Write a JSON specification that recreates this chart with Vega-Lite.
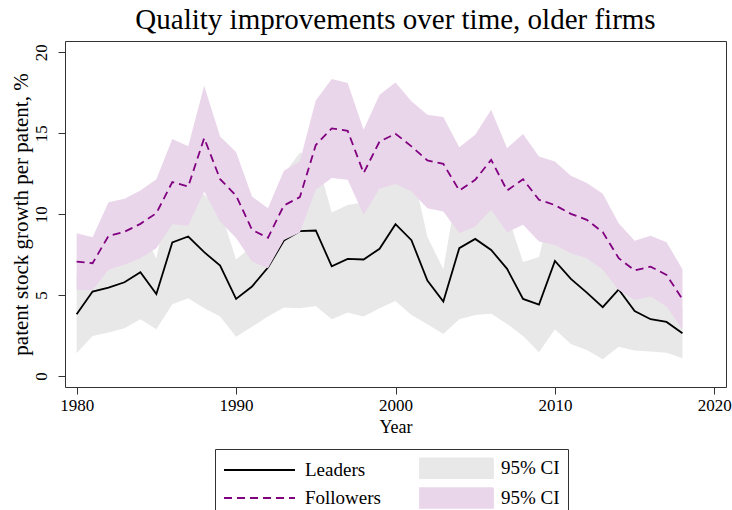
{
  "$schema": "https://vega.github.io/schema/vega-lite/v6.json",
  "width": 661,
  "height": 346,
  "autosize": "none",
  "padding": {"left": 65, "top": 41, "right": 6, "bottom": 123},
  "background": "white",
  "title": {
    "text": "Quality improvements over time, older firms",
    "font": "Liberation Serif",
    "fontSize": 29,
    "fontWeight": "normal",
    "color": "black",
    "anchor": "middle",
    "baseline": "alphabetic",
    "offset": -17
  },
  "config": {
    "view": {"stroke": "#333333", "strokeWidth": 1},
    "font": "Liberation Serif",
    "axis": {
      "domain": false,
      "grid": false,
      "tickColor": "#333333",
      "tickSize": 7,
      "labelFont": "Liberation Serif",
      "labelFontSize": 17,
      "labelColor": "black",
      "titleFont": "Liberation Serif",
      "titleFontWeight": "normal",
      "titleColor": "black"
    }
  },
  "datasets": {
    "est": [
      {"year": 1980, "series": "Leaders", "value": 3.81}, {"year": 1981, "series": "Leaders", "value": 5.22},
      {"year": 1982, "series": "Leaders", "value": 5.46}, {"year": 1983, "series": "Leaders", "value": 5.79},
      {"year": 1984, "series": "Leaders", "value": 6.41}, {"year": 1985, "series": "Leaders", "value": 5.07},
      {"year": 1986, "series": "Leaders", "value": 8.25}, {"year": 1987, "series": "Leaders", "value": 8.62},
      {"year": 1988, "series": "Leaders", "value": 7.65}, {"year": 1989, "series": "Leaders", "value": 6.82},
      {"year": 1990, "series": "Leaders", "value": 4.76}, {"year": 1991, "series": "Leaders", "value": 5.53},
      {"year": 1992, "series": "Leaders", "value": 6.70}, {"year": 1993, "series": "Leaders", "value": 8.37},
      {"year": 1994, "series": "Leaders", "value": 8.95}, {"year": 1995, "series": "Leaders", "value": 8.99},
      {"year": 1996, "series": "Leaders", "value": 6.78}, {"year": 1997, "series": "Leaders", "value": 7.24},
      {"year": 1998, "series": "Leaders", "value": 7.20}, {"year": 1999, "series": "Leaders", "value": 7.86},
      {"year": 2000, "series": "Leaders", "value": 9.38}, {"year": 2001, "series": "Leaders", "value": 8.39},
      {"year": 2002, "series": "Leaders", "value": 5.90}, {"year": 2003, "series": "Leaders", "value": 4.60},
      {"year": 2004, "series": "Leaders", "value": 7.90}, {"year": 2005, "series": "Leaders", "value": 8.47},
      {"year": 2006, "series": "Leaders", "value": 7.79}, {"year": 2007, "series": "Leaders", "value": 6.62},
      {"year": 2008, "series": "Leaders", "value": 4.76}, {"year": 2009, "series": "Leaders", "value": 4.41},
      {"year": 2010, "series": "Leaders", "value": 7.11}, {"year": 2011, "series": "Leaders", "value": 6.00},
      {"year": 2012, "series": "Leaders", "value": 5.15}, {"year": 2013, "series": "Leaders", "value": 4.25},
      {"year": 2014, "series": "Leaders", "value": 5.35}, {"year": 2015, "series": "Leaders", "value": 4.02},
      {"year": 2016, "series": "Leaders", "value": 3.51}, {"year": 2017, "series": "Leaders", "value": 3.34},
      {"year": 2018, "series": "Leaders", "value": 2.64},
      {"year": 1980, "series": "Followers", "value": 7.07}, {"year": 1981, "series": "Followers", "value": 6.97},
      {"year": 1982, "series": "Followers", "value": 8.66}, {"year": 1983, "series": "Followers", "value": 8.91},
      {"year": 1984, "series": "Followers", "value": 9.40}, {"year": 1985, "series": "Followers", "value": 10.06},
      {"year": 1986, "series": "Followers", "value": 11.98}, {"year": 1987, "series": "Followers", "value": 11.71},
      {"year": 1988, "series": "Followers", "value": 14.70}, {"year": 1989, "series": "Followers", "value": 12.16},
      {"year": 1990, "series": "Followers", "value": 11.15}, {"year": 1991, "series": "Followers", "value": 9.03},
      {"year": 1992, "series": "Followers", "value": 8.54}, {"year": 1993, "series": "Followers", "value": 10.54},
      {"year": 1994, "series": "Followers", "value": 11.05}, {"year": 1995, "series": "Followers", "value": 14.27},
      {"year": 1996, "series": "Followers", "value": 15.30}, {"year": 1997, "series": "Followers", "value": 15.15},
      {"year": 1998, "series": "Followers", "value": 12.54}, {"year": 1999, "series": "Followers", "value": 14.49},
      {"year": 2000, "series": "Followers", "value": 14.97}, {"year": 2001, "series": "Followers", "value": 14.19},
      {"year": 2002, "series": "Followers", "value": 13.32}, {"year": 2003, "series": "Followers", "value": 13.11},
      {"year": 2004, "series": "Followers", "value": 11.46}, {"year": 2005, "series": "Followers", "value": 12.12},
      {"year": 2006, "series": "Followers", "value": 13.36}, {"year": 2007, "series": "Followers", "value": 11.46},
      {"year": 2008, "series": "Followers", "value": 12.16}, {"year": 2009, "series": "Followers", "value": 10.89},
      {"year": 2010, "series": "Followers", "value": 10.56}, {"year": 2011, "series": "Followers", "value": 10.02},
      {"year": 2012, "series": "Followers", "value": 9.65}, {"year": 2013, "series": "Followers", "value": 8.89},
      {"year": 2014, "series": "Followers", "value": 7.28}, {"year": 2015, "series": "Followers", "value": 6.52},
      {"year": 2016, "series": "Followers", "value": 6.76}, {"year": 2017, "series": "Followers", "value": 6.25},
      {"year": 2018, "series": "Followers", "value": 4.74}
    ],
    "ci": [
      {"year": 1980, "series": "Leaders CI", "lo": 1.40, "hi": 6.22}, {"year": 1981, "series": "Leaders CI", "lo": 2.47, "hi": 7.97},
      {"year": 1982, "series": "Leaders CI", "lo": 2.68, "hi": 8.24}, {"year": 1983, "series": "Leaders CI", "lo": 2.95, "hi": 8.63},
      {"year": 1984, "series": "Leaders CI", "lo": 3.51, "hi": 9.31}, {"year": 1985, "series": "Leaders CI", "lo": 2.89, "hi": 7.25},
      {"year": 1986, "series": "Leaders CI", "lo": 4.43, "hi": 12.07}, {"year": 1987, "series": "Leaders CI", "lo": 4.80, "hi": 12.44},
      {"year": 1988, "series": "Leaders CI", "lo": 4.19, "hi": 11.2}, {"year": 1989, "series": "Leaders CI", "lo": 3.67, "hi": 10.3},
      {"year": 1990, "series": "Leaders CI", "lo": 2.43, "hi": 7.2}, {"year": 1991, "series": "Leaders CI", "lo": 3.05, "hi": 8.01},
      {"year": 1992, "series": "Leaders CI", "lo": 3.67, "hi": 9.73}, {"year": 1993, "series": "Leaders CI", "lo": 4.23, "hi": 12.5},
      {"year": 1994, "series": "Leaders CI", "lo": 4.19, "hi": 13.8}, {"year": 1995, "series": "Leaders CI", "lo": 4.33, "hi": 13.65},
      {"year": 1996, "series": "Leaders CI", "lo": 3.51, "hi": 10.1}, {"year": 1997, "series": "Leaders CI", "lo": 3.92, "hi": 10.56},
      {"year": 1998, "series": "Leaders CI", "lo": 3.67, "hi": 10.73}, {"year": 1999, "series": "Leaders CI", "lo": 4.19, "hi": 11.53},
      {"year": 2000, "series": "Leaders CI", "lo": 4.64, "hi": 14.12}, {"year": 2001, "series": "Leaders CI", "lo": 3.77, "hi": 13.0},
      {"year": 2002, "series": "Leaders CI", "lo": 3.20, "hi": 8.6}, {"year": 2003, "series": "Leaders CI", "lo": 2.60, "hi": 6.6},
      {"year": 2004, "series": "Leaders CI", "lo": 3.51, "hi": 12.29}, {"year": 2005, "series": "Leaders CI", "lo": 3.77, "hi": 13.17},
      {"year": 2006, "series": "Leaders CI", "lo": 3.84, "hi": 11.74}, {"year": 2007, "series": "Leaders CI", "lo": 3.22, "hi": 10.02},
      {"year": 2008, "series": "Leaders CI", "lo": 2.47, "hi": 7.05}, {"year": 2009, "series": "Leaders CI", "lo": 1.46, "hi": 7.36},
      {"year": 2010, "series": "Leaders CI", "lo": 2.89, "hi": 11.33}, {"year": 2011, "series": "Leaders CI", "lo": 1.98, "hi": 10.02},
      {"year": 2012, "series": "Leaders CI", "lo": 1.61, "hi": 8.69}, {"year": 2013, "series": "Leaders CI", "lo": 1.03, "hi": 7.47},
      {"year": 2014, "series": "Leaders CI", "lo": 1.81, "hi": 8.9}, {"year": 2015, "series": "Leaders CI", "lo": 1.57, "hi": 6.47},
      {"year": 2016, "series": "Leaders CI", "lo": 1.51, "hi": 5.51}, {"year": 2017, "series": "Leaders CI", "lo": 1.44, "hi": 5.24},
      {"year": 2018, "series": "Leaders CI", "lo": 1.09, "hi": 4.19},
      {"year": 1980, "series": "Followers CI", "lo": 5.32, "hi": 8.82}, {"year": 1981, "series": "Followers CI", "lo": 5.32, "hi": 8.58},
      {"year": 1982, "series": "Followers CI", "lo": 6.56, "hi": 10.74}, {"year": 1983, "series": "Followers CI", "lo": 6.87, "hi": 10.95},
      {"year": 1984, "series": "Followers CI", "lo": 7.28, "hi": 11.46}, {"year": 1985, "series": "Followers CI", "lo": 7.90, "hi": 12.16},
      {"year": 1986, "series": "Followers CI", "lo": 9.38, "hi": 14.64}, {"year": 1987, "series": "Followers CI", "lo": 9.28, "hi": 14.19},
      {"year": 1988, "series": "Followers CI", "lo": 11.40, "hi": 17.94}, {"year": 1989, "series": "Followers CI", "lo": 9.55, "hi": 14.80},
      {"year": 1990, "series": "Followers CI", "lo": 8.52, "hi": 13.84}, {"year": 1991, "series": "Followers CI", "lo": 7.07, "hi": 11.09},
      {"year": 1992, "series": "Followers CI", "lo": 6.66, "hi": 10.37}, {"year": 1993, "series": "Followers CI", "lo": 8.41, "hi": 12.68},
      {"year": 1994, "series": "Followers CI", "lo": 8.87, "hi": 13.26}, {"year": 1995, "series": "Followers CI", "lo": 11.51, "hi": 17.03},
      {"year": 1996, "series": "Followers CI", "lo": 12.23, "hi": 18.35}, {"year": 1997, "series": "Followers CI", "lo": 12.12, "hi": 18.10},
      {"year": 1998, "series": "Followers CI", "lo": 9.96, "hi": 15.22}, {"year": 1999, "series": "Followers CI", "lo": 11.57, "hi": 17.38},
      {"year": 2000, "series": "Followers CI", "lo": 11.86, "hi": 18.14}, {"year": 2001, "series": "Followers CI", "lo": 11.40, "hi": 16.97},
      {"year": 2002, "series": "Followers CI", "lo": 10.37, "hi": 16.14}, {"year": 2003, "series": "Followers CI", "lo": 10.16, "hi": 16.0},
      {"year": 2004, "series": "Followers CI", "lo": 8.82, "hi": 14.14}, {"year": 2005, "series": "Followers CI", "lo": 9.24, "hi": 14.91},
      {"year": 2006, "series": "Followers CI", "lo": 10.27, "hi": 16.45}, {"year": 2007, "series": "Followers CI", "lo": 8.87, "hi": 14.08},
      {"year": 2008, "series": "Followers CI", "lo": 9.34, "hi": 14.95}, {"year": 2009, "series": "Followers CI", "lo": 8.31, "hi": 13.57},
      {"year": 2010, "series": "Followers CI", "lo": 8.10, "hi": 13.26}, {"year": 2011, "series": "Followers CI", "lo": 7.59, "hi": 12.37},
      {"year": 2012, "series": "Followers CI", "lo": 7.28, "hi": 11.92}, {"year": 2013, "series": "Followers CI", "lo": 6.56, "hi": 11.26},
      {"year": 2014, "series": "Followers CI", "lo": 5.32, "hi": 9.44}, {"year": 2015, "series": "Followers CI", "lo": 4.70, "hi": 8.35},
      {"year": 2016, "series": "Followers CI", "lo": 4.91, "hi": 8.66}, {"year": 2017, "series": "Followers CI", "lo": 4.29, "hi": 8.27},
      {"year": 2018, "series": "Followers CI", "lo": 2.85, "hi": 6.60}
    ]
  },
  "encoding": {
    "x": {
      "field": "year",
      "type": "quantitative",
      "scale": {"domain": [1979.27, 2020.73], "nice": false, "zero": false},
      "axis": {
        "values": [1980, 1990, 2000, 2010, 2020],
        "format": "d",
        "title": "Year",
        "labelPadding": 3,
        "labelFlush": false,
        "titleFontSize": 18,
        "titlePadding": 5
      }
    },
    "color": {
      "field": "series",
      "type": "nominal",
      "scale": {
        "domain": ["Leaders", "Followers", "Leaders CI", "Followers CI"],
        "range": ["#000000", "#800080", "#e8e8e8", "#ead6ea"]
      },
      "legend": {
        "title": null,
        "values": ["Leaders", "Followers", "Leaders CI", "Followers CI"],
        "orient": "none",
        "legendX": 150,
        "legendY": 408,
        "columns": 2,
        "columnPadding": 35,
        "rowPadding": 2,
        "padding": 8,
        "strokeColor": "#333333",
        "symbolSize": 400,
        "symbolStrokeWidth": 1.8,
        "labelOffset": 60,
        "labelFont": "Liberation Serif",
        "labelFontSize": 19,
        "labelColor": "black",
        "labelLimit": 300,
        "labelExpr": "indexof(datum.label, 'CI') >= 0 ? '95% CI' : datum.label",
        "encode": {
          "symbols": {
            "update": {
              "shape": {"signal": "indexof(datum.value, 'CI') < 0 ? 'M-1,0L6.1,0' : 'M-1,-0.98L6.3,-0.98L6.3,0.98L-1,0.98Z'"},
              "strokeDash": {"signal": "datum.value == 'Followers' ? [8, 5] : [1, 0]"},
              "strokeWidth": {"value": 1.8},
              "opacity": {"value": 1},
              "fillOpacity": {"value": 1},
              "strokeOpacity": {"value": 1}
            }
          }
        }
      }
    }
  },
  "layer": [
    {
      "data": {"name": "ci"},
      "transform": [{"filter": "datum.series == 'Leaders CI'"}],
      "mark": {"type": "area", "opacity": 1},
      "encoding": {
        "y": {
          "field": "lo",
          "type": "quantitative",
          "scale": {"domain": [-0.68, 20.7], "nice": false, "zero": false},
          "axis": {
            "values": [0, 5, 10, 15, 20],
            "title": "patent stock growth per patent, %",
            "labelAngle": 270,
            "labelAlign": "center",
            "labelBaseline": "alphabetic",
            "labelPadding": 12,
            "titleFontSize": 21,
            "titlePadding": 1
          }
        },
        "y2": {"field": "hi"}
      }
    },
    {
      "data": {"name": "est"},
      "transform": [{"filter": "datum.series == 'Leaders'"}],
      "mark": {"type": "line", "strokeWidth": 1.8},
      "encoding": {
        "y": {"field": "value", "type": "quantitative"}
      }
    },
    {
      "data": {"name": "ci"},
      "transform": [{"filter": "datum.series == 'Followers CI'"}],
      "mark": {"type": "area", "opacity": 1},
      "encoding": {
        "y": {"field": "lo", "type": "quantitative"},
        "y2": {"field": "hi"}
      }
    },
    {
      "data": {"name": "est"},
      "transform": [{"filter": "datum.series == 'Followers'"}],
      "mark": {"type": "line", "strokeWidth": 1.8, "strokeDash": [8, 5]},
      "encoding": {
        "y": {"field": "value", "type": "quantitative"}
      }
    }
  ]
}
